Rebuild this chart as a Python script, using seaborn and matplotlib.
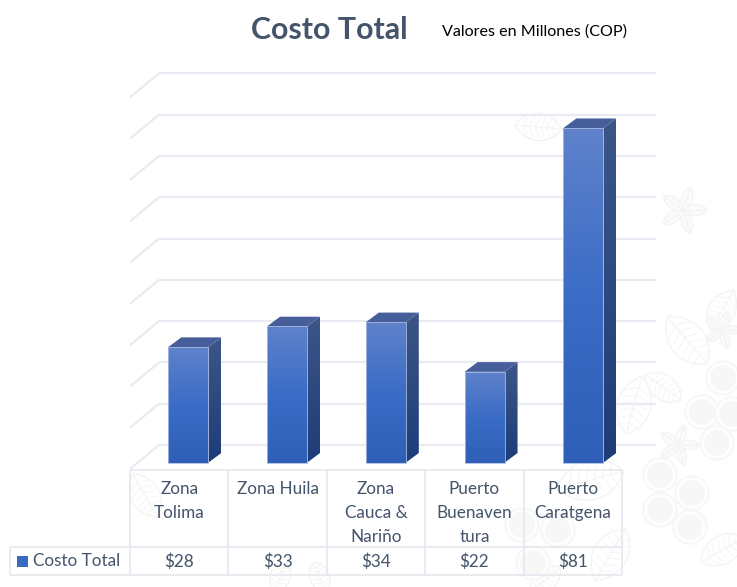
import numpy as np
import pandas as pd
import matplotlib
matplotlib.use("Agg")
import matplotlib.pyplot as plt
import seaborn as sns
from matplotlib.colors import LinearSegmentedColormap
from matplotlib.patches import Circle, PathPatch, Polygon, Rectangle
from matplotlib.path import Path
from matplotlib.transforms import Affine2D

categories = ["Zona\nTolima", "Zona Huila", "Zona\nCauca &\nNariño", "Puerto\nBuenaven\ntura", "Puerto\nCaratgena"]
costs = [28, 33, 34, 22, 81]
cost_labels = ["$28", "$33", "$34", "$22", "$81"]
series_name = "Costo Total"
title_text = "Costo Total"
subtitle_text = "Valores en Millones (COP)"
grid_values = list(range(0, 100, 10))

W, H = 737, 587
FONT = "Lato"
TEXT = "#44546a"
GRID = "#e9ebf2"
TABLE = "#e3e6ee"

sns.set_theme(style="white")
plt.rcParams["font.family"] = [FONT, "DejaVu Sans"]

fig = plt.figure(figsize=(W / 100, H / 100), dpi=100, facecolor="white")
ax = fig.add_axes([0, 0, 1, 1])

df = pd.DataFrame({"zona": categories, "costo": costs})
sns.barplot(data=df, x="zona", y="costo", order=categories, width=0.405,
            color="#3a6bc4", ax=ax, zorder=4)
bars = list(ax.containers[0])

# Scale: one category is 98.75 px wide, ten units are 41.3 px tall.
X0, XSTEP = 188.3, 98.75
Y0, YSTEP = 462.7, 4.13
ax.set_xlim(-X0 / XSTEP, (W - X0) / XSTEP)
ax.set_ylim((Y0 - H) / YSTEP, Y0 / YSTEP)
ax.axis("off")

# Transform for elements placed in pixels measured from the top-left corner.
px = Affine2D().scale(1, -1).translate(0, H)


def line(xs, ys, color, lw, z=1):
    ax.plot(xs, ys, transform=px, color=color, lw=lw, zorder=z, solid_capstyle="butt")


# Faint botanical backdrop: coffee cherries, leaves and blossoms.
def cherry(x, y, r=17):
    ax.add_patch(Circle((x, y), r, transform=px, fc="#fbfbfb", ec="#f6f6f6", lw=1, zorder=0))
    ax.add_patch(Circle((x, y), r - 3, transform=px, fc="#f7f7f7", ec="white", lw=1.5, zorder=0))


def leaf(x, y, length, angle, width=0.38, color="#f4f4f4"):
    L, w = length, length * width
    verts = [(-L / 2, 0), (-L / 5, -w), (L / 4, -w), (L / 2, 0), (L / 4, w), (-L / 5, w), (-L / 2, 0)]
    codes = [Path.MOVETO, Path.CURVE4, Path.CURVE4, Path.CURVE4, Path.CURVE4, Path.CURVE4, Path.CURVE4]
    tr = Affine2D().rotate_deg(angle).translate(x, y) + px
    ax.add_patch(PathPatch(Path(verts, codes), transform=tr, fc="white", ec=color, lw=1, zorder=0))
    ax.plot([-L / 2, L / 2], [0, 0], transform=tr, color=color, lw=0.8, zorder=0)
    for t in np.linspace(-0.3, 0.3, 6):
        for s in (-1, 1):
            ax.plot([t * L, (t + 0.09) * L], [0, s * w * 0.55], transform=tr, color=color, lw=0.6, zorder=0)


def blossom(x, y, r=14):
    for a in range(0, 360, 72):
        rad = np.deg2rad(a)
        leaf(x + r * 0.8 * np.cos(rad), y + r * 0.8 * np.sin(rad), r * 1.6, a, 0.3)


for lx, ly, ll, la in [(538, 127, 48, 5), (687, 340, 62, 50), (663, 387, 44, 35), (634, 405, 60, 105),
                       (600, 400, 44, 80), (145, 495, 50, 60), (590, 480, 70, -15), (610, 555, 60, -60),
                       (722, 550, 50, -30), (545, 580, 40, -40), (280, 578, 34, -70), (320, 578, 34, -110),
                       (722, 310, 46, 120), (505, 396, 44, 65)]:
    leaf(lx, ly, ll, la)
for bx, by, br in [(683, 210, 15), (678, 445, 13), (722, 330, 12)]:
    blossom(bx, by, br)
for cx, cy in [(723, 378), (702, 412), (732, 414), (717, 443), (660, 475), (692, 493),
               (660, 510), (690, 527), (558, 530), (522, 525), (533, 563)]:
    cherry(cx, cy)

# Back wall gridlines with their diagonal returns to the floor edge.
wall_lift = Y0 - 445
for v in grid_values:
    yw = Y0 - wall_lift - v * YSTEP
    line([159, 656], [yw, yw], GRID, 1.6)
    line([159, 130], [yw, yw + 24], GRID, 1.6)

# Bar faces: shaded front plus side and top built from each bar's rectangle.
front_cmap = LinearSegmentedColormap.from_list("front", ["#5f82cb", "#3b6cc6", "#2f5fb6"])
side_cmap = LinearSegmentedColormap.from_list("side", ["#3c5687", "#1d3c78"])
gradient = np.linspace(0, 1, 256).reshape(-1, 1)
dx, dy = 13 / XSTEP, 9.7 / YSTEP

for bar in bars:
    x, w, h = bar.get_x(), bar.get_width(), bar.get_height()
    bar.set_facecolor("none")
    bar.set_edgecolor("#a9bce3")
    bar.set_linewidth(0.6)
    bar.set_zorder(6)
    front = ax.imshow(gradient, cmap=front_cmap, extent=(x, x + w, 0, h), aspect="auto", zorder=5)
    front.set_clip_path(Rectangle((x, 0), w, h, transform=ax.transData))
    side = Polygon([(x + w, 0), (x + w + dx, dy), (x + w + dx, h + dy), (x + w, h)], transform=ax.transData)
    im = ax.imshow(gradient, cmap=side_cmap, extent=(x + w, x + w + dx, 0, h + dy), aspect="auto", zorder=5)
    im.set_clip_path(side)
    ax.add_patch(Polygon([(x, h), (x + dx, h + dy), (x + w + dx, h + dy), (x + w, h)],
                         fc="#465f9a", ec="none", zorder=5))

ax.set_xlim(-X0 / XSTEP, (W - X0) / XSTEP)
ax.set_ylim((Y0 - H) / YSTEP, Y0 / YSTEP)

# Data table beneath the bars.
col_edges = [130 + 98.4 * i for i in range(len(categories) + 1)]
top, mid, bottom = 470, 547, 575
line([col_edges[0], col_edges[-1]], [top, top], TABLE, 1.1, 2)
line([10, col_edges[-1]], [mid, mid], TABLE, 1.1, 2)
line([10, col_edges[-1]], [bottom, bottom], TABLE, 1.1, 2)
line([10, 10], [mid, bottom], TABLE, 1.1, 2)
for edge in col_edges:
    line([edge, edge], [top, bottom], TABLE, 1.1, 2)

for i, (name, label) in enumerate(zip(categories, cost_labels)):
    cx = (col_edges[i] + col_edges[i + 1]) / 2
    ax.text(cx, 481, name, transform=px, ha="center", va="top", fontsize=12.3, color=TEXT,
            linespacing=1.62, zorder=7)
    ax.text(cx, 562, label, transform=px, ha="center", va="center", fontsize=12.3, color=TEXT, zorder=7)

ax.add_patch(Rectangle((17, 556), 11, 11, transform=px, fc="#3a6bc4", ec="none", zorder=7))
ax.text(33, 561, series_name, transform=px, ha="left", va="center", fontsize=12.3, color=TEXT, zorder=7)

ax.text(329.5, 30, title_text, transform=px, ha="center", va="center", fontsize=21.9,
        fontweight="bold", color=TEXT, zorder=7)
ax.text(535, 32, subtitle_text, transform=px, ha="center", va="center", fontsize=11.6,
        color="black", zorder=7)

fig.savefig("out.png", dpi=100, facecolor="white")
